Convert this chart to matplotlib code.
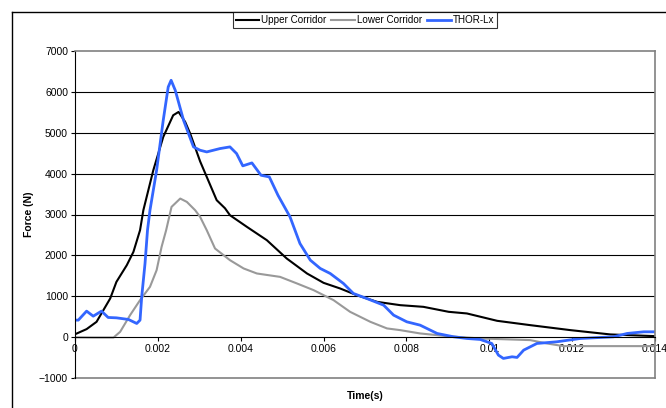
import matplotlib.pyplot as plt
from matplotlib.lines import Line2D

plt.rcParams['font.family'] = ['Liberation Sans', 'DejaVu Sans']

# Upper corridor (black)
upper_t = [0, 0.00028, 0.00052, 0.00085, 0.001, 0.00125, 0.00141, 0.00157, 0.00165,
           0.00189, 0.00213, 0.00237, 0.0025, 0.00266, 0.00278, 0.00302, 0.00318,
           0.00342, 0.00362, 0.00374, 0.00415, 0.00463, 0.00511, 0.0056, 0.006,
           0.0064, 0.0068, 0.00729, 0.00785, 0.00841, 0.00902, 0.00946, 0.01019,
           0.01099, 0.01196, 0.01292, 0.014]
upper_f = [70, 196, 374, 946, 1352, 1760, 2085, 2616, 3105,
           4083, 4897, 5428, 5509, 5264, 4980, 4300, 3920,
           3350, 3153, 2983, 2697, 2372, 1924, 1557, 1328,
           1190, 1027, 863, 782, 741, 619, 579, 399,
           293, 171, 66, 24]

# Lower corridor (gray)
lower_t = [0, 0.00044, 0.00093, 0.00109, 0.00133, 0.00157, 0.00181, 0.00197, 0.00209,
           0.0022, 0.00233, 0.00254, 0.0027, 0.0029, 0.00302, 0.00318, 0.00338,
           0.00374, 0.00407, 0.00439, 0.00495, 0.00536, 0.00576, 0.00624, 0.00664,
           0.00713, 0.00753, 0.00785, 0.00833, 0.00898, 0.00978, 0.01099, 0.01139,
           0.01179, 0.014]
lower_f = [-5, -10, -10, 130, 538, 905, 1230, 1638, 2208,
           2616, 3186, 3390, 3308, 3105, 2942, 2616, 2168,
           1883, 1680, 1557, 1474, 1312, 1149, 905, 619,
           374, 213, 171, 90, 24, -33, -73, -155,
           -220, -220]

# THOR-Lx (blue)
thor_t = [0, 0.00008, 0.00028, 0.00044, 0.00064, 0.0008, 0.001, 0.00129, 0.00149,
          0.00157, 0.00161, 0.00169, 0.00175, 0.00181, 0.00197, 0.00213, 0.00225,
          0.00232, 0.00242, 0.00262, 0.00286, 0.00302, 0.00318, 0.0035, 0.00374,
          0.0039, 0.00405, 0.00427, 0.00449, 0.00469, 0.0049, 0.00519, 0.00543,
          0.00568, 0.00592, 0.00616, 0.00648, 0.00672, 0.00704, 0.00745, 0.00769,
          0.00801, 0.00833, 0.00874, 0.00914, 0.00946, 0.00978, 0.01006, 0.01022,
          0.01034, 0.01055, 0.01067, 0.01083, 0.01115, 0.01163, 0.0122, 0.013,
          0.01333, 0.01373, 0.014]
thor_f = [416, 416, 636, 513, 636, 481, 472, 432, 334,
          416, 985, 1800, 2616, 3105, 4083, 5306, 6120,
          6284, 6039, 5306, 4654, 4572, 4531, 4613, 4654,
          4491, 4190, 4262, 3960, 3920, 3470, 2942, 2290,
          1883, 1680, 1557, 1312, 1068, 946, 782, 538,
          374, 293, 90, 8, -33, -57, -155, -440,
          -521, -481, -497, -318, -155, -114, -33, 8,
          90, 130, 130]

W, H = 666, 408
fig = plt.figure(figsize=(W / 100, H / 100), dpi=100)
ax = fig.add_axes([75 / W, 1 - 378 / H, (655 - 75) / W, (378 - 51) / H])

ax.plot(upper_t, upper_f, color='black', lw=1.5, label='Upper Corridor')
ax.plot(lower_t, lower_f, color='#999999', lw=1.5, label='Lower Corridor')
ax.plot(thor_t, thor_f, color='#3366FF', lw=2, label='THOR-Lx')

ax.set_xlim(0, 0.014)
ax.set_ylim(-1000, 7000)
ax.set_yticks(range(-1000, 7001, 1000))
ax.set_xticks([0, 0.002, 0.004, 0.006, 0.008, 0.01, 0.012, 0.014])
ax.set_xticklabels(['0', '0.002', '0.004', '0.006', '0.008', '0.01', '0.012', '0.014'])

# gridlines
for y in range(1000, 7000, 1000):
    ax.axhline(y, color='black', lw=0.8, zorder=0)

ax.spines['bottom'].set_position(('data', 0))
ax.spines['bottom'].set_linewidth(0.8)
ax.spines['left'].set_linewidth(0.8)
for s in ['top', 'right']:
    ax.spines[s].set_color('#808080')
    ax.spines[s].set_linewidth(1.2)
ax.axhline(-1000, color='#808080', lw=1.2, clip_on=False)

ax.tick_params(axis='both', labelsize=7.5, length=3, width=0.8, direction='out', pad=2)

ax.set_xlabel('Time(s)', fontsize=7.5, fontweight='bold')
ax.xaxis.set_label_coords(0.5, -0.04)
ax.set_ylabel('Force (N)', fontsize=7.5, fontweight='bold')
ax.yaxis.set_label_coords(-0.0707, 0.5)

leg = fig.legend(loc='center', bbox_to_anchor=(365 / W, 1 - 20 / H), ncol=3,
                 fontsize=7.1, frameon=True, fancybox=False, edgecolor='black',
                 handlelength=2.4, columnspacing=0.5, handletextpad=0.2,
                 borderpad=0.3, borderaxespad=0)
leg.get_frame().set_linewidth(0.8)

# outer chart border (left and top)
fig.add_artist(Line2D([12 / W, 12 / W], [0, 1 - 12 / H], color='black', lw=1))
fig.add_artist(Line2D([12 / W, 1], [1 - 12 / H, 1 - 12 / H], color='black', lw=1))

fig.savefig('out.png', dpi=100)
